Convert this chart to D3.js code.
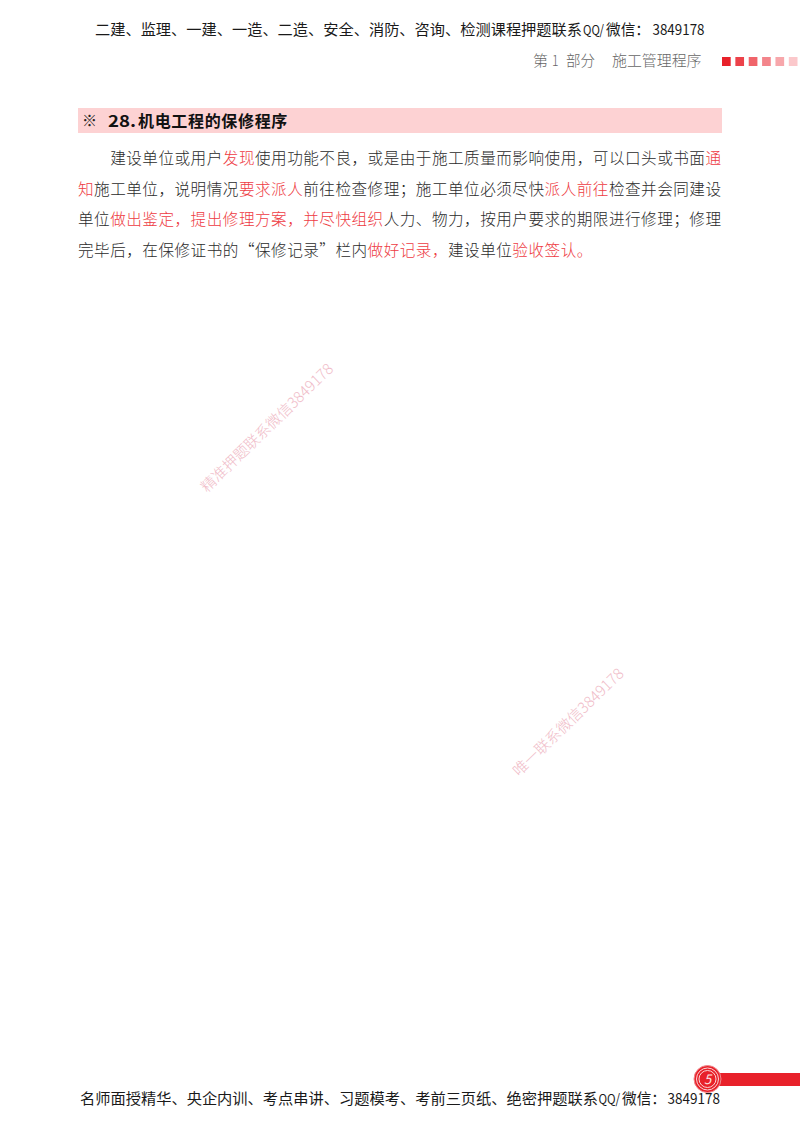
<!DOCTYPE html>
<html lang="zh-CN"><head><meta charset="utf-8">
<script src="https://cdn.jsdelivr.net/npm/d3@7"></script>
<style>html,body{margin:0;padding:0;background:#fff}svg{display:block}text{font-family:"Noto Sans CJK SC","Noto Sans",sans-serif}</style>
</head><body><div id="c"></div>
<script>
const headerParts = ["二建、监理、一建、一造、二造、安全、消防、咨询、检测课程押题联系","QQ/","微信：","3849178"];
const footerParts = ["名师面授精华、央企内训、考点串讲、习题模考、考前三页纸、绝密押题联系","QQ/","微信：","3849178"];
const partParts = ["第","1","部分","施工管理程序"];
const titleMark = "※";
const titleNumber = "28.";
const titleText = "机电工程的保修程序";
const pageNumber = "5";
const line1 = [["建设单位或用户",0],["发现",1],["使用功能不良，或是由于施工质量而影响使用，可以口头或书面",0],["通",1]];
const line2 = [["知",1],["施工单位，说明情况",0],["要求派人",1],["前往检查修理；施工单位必须尽快",0],["派人前往",1],["检查并会同建设",0]];
const line3 = [["单位",0],["做出鉴定，提出修理方案，并尽快组织",1],["人力、物力，按用户要求的期限进行修理；修理",0]];
const line4 = [["完毕后，在保修证书的“保修记录”栏内",0],["做好记录，",1],["建设单位",0],["验收签认。",1]];
const bodyLines = [line1,line2,line3,line4];
const lineIndents = [2,0,0,0];
const squareFade = [0,1,2,3,4,5];
const watermarks = ["精准押题联系微信3849178","唯一联系微信3849178"];
const ringRadii = [13.5,11,8.5];

const W=800,H=1124;
const svg=d3.select("#c").append("svg").attr("width",W).attr("height",H).attr("viewBox",`0 0 ${W} ${H}`);
svg.append("rect").attr("width",W).attr("height",H).attr("fill","#fff");

const put=(t,x,y,size,fill,len)=>{const e=svg.append("text").text(t).attr("x",x).attr("y",y)
  .attr("font-size",size).attr("fill",fill);
  if(len)e.attr("textLength",len).attr("lengthAdjust","spacingAndGlyphs");return e;};
const strip=(parts,edges,sizes,y,fill,w)=>parts.forEach((p,i)=>{
  const e=put(p,edges[i][0],y,sizes[i],fill,edges[i][1]-edges[i][0]);
  if(w)e.attr("font-weight",w);});

strip(headerParts,[[95,582],[583,604],[606,650],[652.5,704.5]],[15,13.5,15,14.5],35,"#1a1a1a");
strip(partParts,[[533,548],[552,558.5],[566,595],[612,701.5]],[14.5,14.5,14.5,14.5],66,"#666",300);

const sqX=d3.scaleBand().domain(squareFade).range([722,797.5]).paddingInner(0.35).paddingOuter(0);
const sqC=d3.scaleLinear().domain([0,5]).range(["#e8212a","#fbc8cb"]);
svg.selectAll(".sq").data(squareFade).join("rect").attr("class","sq")
  .attr("x",d=>sqX(d)).attr("y",57).attr("width",sqX.bandwidth()).attr("height",9).attr("fill",d=>sqC(d));

svg.append("rect").attr("x",78).attr("y",108).attr("width",644).attr("height",25).attr("fill","#fdd2d3");
put(titleMark,82,126,15,"#222");
put(titleNumber,108,126.5,16,"#111",28).attr("font-weight",700).attr("font-family","Liberation Serif");
const tx=d3.scaleLinear().domain([0,titleText.length]).range([138,288]);
svg.append("text").attr("y",126.5).attr("font-size",16).attr("font-weight",700).attr("fill","#111")
  .attr("x",d3.range(titleText.length).map(tx).join(" ")).text(titleText);

const px=d3.scaleLinear().domain([0,40]).range([78,721.5]);
const py=d3.scaleLinear().domain([0,3]).range([164,256]);
bodyLines.forEach((segs,i)=>{
  const t=svg.append("text").attr("y",py(i)).attr("font-size",15.6).attr("font-weight",300);
  let k=lineIndents[i];
  segs.forEach(([s,hot])=>{
    const chars=Array.from(s);
    t.append("tspan").attr("x",chars.map((_,j)=>px(k+j)).join(" "))
      .attr("fill",hot?"#ee3b43":"#2b2b2b").text(s);
    k+=chars.length;
  });
});

[[207,493,177],[519,777,147]].forEach(([x,y,len],i)=>{
  svg.append("text").text(watermarks[i]).attr("font-size",15).attr("font-weight",300)
    .attr("fill","#f0bcc8").attr("textLength",len).attr("lengthAdjust","spacingAndGlyphs")
    .attr("transform",`translate(${x},${y}) rotate(-44)`);
});

svg.append("rect").attr("x",712).attr("y",1073).attr("width",88).attr("height",13).attr("fill","#e8212a");
svg.selectAll(".ring").data(ringRadii).join("circle").attr("class","ring")
  .attr("cx",707.5).attr("cy",1079).attr("r",d=>d)
  .attr("fill","#e8212a").attr("stroke",(d,i)=>i?"#fbd5d7":"#f08a8e").attr("stroke-width",1);
put(pageNumber,707.5,1084,13,"#fde3e3").attr("text-anchor","middle").attr("font-style","italic").attr("font-family","Liberation Serif");

strip(footerParts,[[80,598],[598.5,620],[622,666],[667.5,720]],[15,13.5,15,14.5],1103.5,"#1a1a1a");
</script></body></html>
